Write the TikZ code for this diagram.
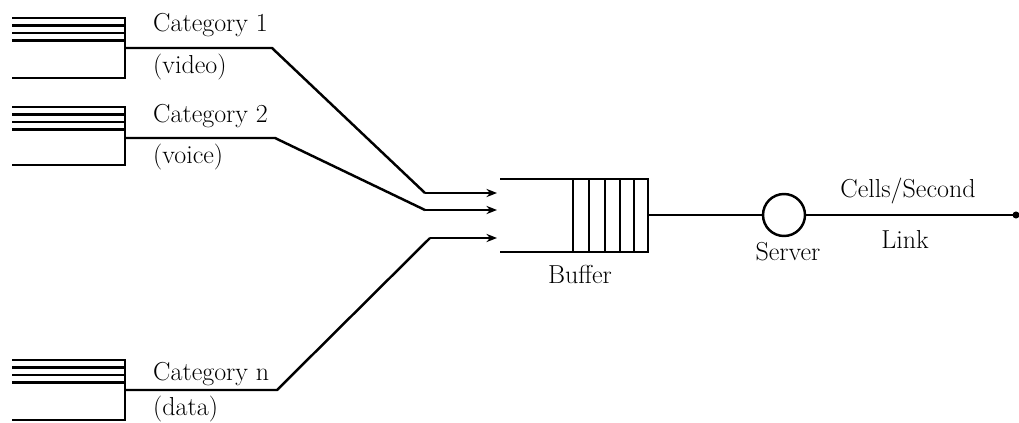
\documentclass[tikz,border=0pt]{standalone}
\usetikzlibrary{arrows.meta}
\begin{document}
\begin{tikzpicture}[x=0.03cm,y=-0.03cm,
  line width=2.1pt,
  lbl/.style={inner sep=0pt,font=\fontsize{22.2}{26}\selectfont},
  qline/.style={line width=1.9pt},
  arr/.style={-{Stealth[length=9pt,width=7pt]}},
  srv/.style={circle,draw,line width=2.1pt,minimum size=1.26cm,inner sep=0pt}]
\useasboundingbox (0,0) rectangle (1019,422);
% queue 1
\foreach \y in {18,25.5,33,40.5}{\draw[qline] (12,\y) -- (125,\y);}
\draw (12,78) -- (125,78) -- (125,17);
\coordinate (q1) at (125,48);
\coordinate (b1) at (272,48);
\coordinate (c1) at (425,193);
\coordinate (a1) at (497,193);
\draw (q1) -- (b1) -- (c1);
\draw[arr] (c1) -- (a1);
\node[lbl,anchor=base west] (t1) at (152,32) {Category 1};
\node[lbl,anchor=base west] (v1) at (152,73) {(video)};
% queue 2
\foreach \y in {107,114.5,122,129.5}{\draw[qline] (12,\y) -- (125,\y);}
\draw (12,165) -- (125,165) -- (125,106);
\coordinate (q2) at (125,138);
\coordinate (b2) at (275,138);
\coordinate (c2) at (425,210);
\coordinate (a2) at (497,210);
\draw (q2) -- (b2) -- (c2);
\draw[arr] (c2) -- (a2);
\node[lbl,anchor=base west] (t2) at (152,122) {Category 2};
\node[lbl,anchor=base west] (v2) at (152,163) {(voice)};
% queue n
\foreach \y in {360,367.5,375,382.5}{\draw[qline] (12,\y) -- (125,\y);}
\draw (12,420) -- (125,420) -- (125,359);
\coordinate (qn) at (125,390);
\coordinate (bn) at (277,390);
\coordinate (cn) at (430,238);
\coordinate (an) at (497,238);
\draw (qn) -- (bn) -- (cn);
\draw[arr] (cn) -- (an);
\node[lbl,anchor=base west] (tn) at (152,380) {Category n};
\node[lbl,anchor=base west] (vn) at (152,415) {(data)};
% buffer
\draw (500,179) -- (648,179) -- (648,252) -- (500,252);
\foreach \x in {573,589,605,620,634}{\draw (\x,179) -- (\x,252);}
\coordinate (bo) at (648,215);
\node[lbl,anchor=base] (buf) at (580,283) {Buffer};
% server
\node[srv] (s) at (784,215) {};
\coordinate (end) at (1016,215);
\draw (bo) -- (s.west);
\draw (s.east) -- (end);
\fill (end) circle (3pt);
\node[lbl,anchor=base] (sl) at (788,260) {Server};
\node[lbl,anchor=base] (cs) at (908,197) {Cells/Second};
\node[lbl,anchor=base] (lk) at (905,248) {Link};
\end{tikzpicture}
\end{document}
